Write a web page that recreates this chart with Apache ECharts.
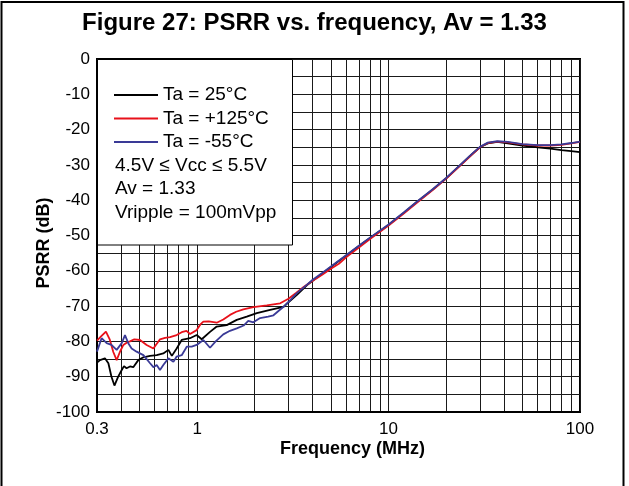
<!DOCTYPE html>
<html>
<head>
<meta charset="utf-8">
<script src="https://cdn.jsdelivr.net/npm/echarts@6/dist/echarts.min.js"></script>
<style>
html,body{margin:0;padding:0;background:#fff;}
#c{width:629px;height:486px;}
</style>
</head>
<body>
<div id="c"></div>
<script>
// ---- data (frequency in MHz, PSRR in dB) ----
const freq25 = [0.300,0.311,0.330,0.344,0.357,0.370,0.377,0.387,0.404,0.415,0.428,0.446,0.464,0.493,0.524,0.568,0.615,0.666,0.708,0.738,0.782,0.831,0.918,0.995,1.057,1.168,1.266,1.428,1.611,1.817,2.05,2.407,2.826,3.0,3.31,3.74,4.0,4.5,5.0,6.0,7.0,8.0,10,12,14,17,20,24,27,30,33,37,42,50,60,70,80,90,100];
const psrr25 = [-86.0,-85.3,-84.8,-86.2,-90.0,-92.5,-92.8,-90.0,-88.1,-87.0,-87.6,-87.1,-87.3,-85.3,-84.5,-84.1,-83.9,-83.4,-82.4,-84.1,-82.0,-79.6,-79.1,-78.2,-79.4,-77.3,-75.8,-75.4,-73.9,-73.0,-72.0,-71.1,-70.2,-68.9,-66.9,-64.1,-62.9,-60.8,-58.9,-55.7,-53.0,-50.7,-47.0,-43.6,-40.6,-37.0,-33.8,-29.8,-27.2,-25.0,-23.9,-23.5,-23.9,-24.5,-25.0,-25.4,-25.8,-26.1,-26.4];

const freq125 = [0.300,0.315,0.334,0.350,0.365,0.380,0.395,0.412,0.430,0.446,0.470,0.503,0.545,0.591,0.640,0.680,0.722,0.782,0.831,0.880,0.918,0.995,1.04,1.078,1.15,1.266,1.37,1.485,1.60,1.744,1.967,2.313,2.716,3.0,3.3,3.6,4.0,4.5,5.0,5.5,6.0,7.0,8.0,10,12,14,17,20,24,27,30,33,37,42,50,60,70,80,90,100];
const psrr125 = [-79.8,-78.6,-77.2,-79.5,-83.0,-85.3,-83.0,-81.0,-80.3,-80.0,-79.4,-79.6,-81.0,-82.0,-79.4,-79.0,-78.8,-78.2,-77.4,-77.0,-77.9,-76.8,-75.2,-74.4,-74.3,-74.7,-73.8,-72.5,-71.6,-70.9,-70.3,-69.8,-69.2,-67.9,-66.2,-64.6,-62.9,-61.1,-59.4,-58.0,-56.2,-53.4,-51.0,-47.2,-43.8,-40.8,-37.1,-33.9,-29.9,-27.3,-25.0,-23.8,-23.4,-23.6,-24.2,-24.5,-24.5,-24.3,-23.9,-23.5];

const freqM55 = [0.300,0.317,0.337,0.357,0.380,0.404,0.420,0.437,0.455,0.483,0.524,0.568,0.591,0.615,0.640,0.666,0.708,0.752,0.782,0.831,0.883,0.937,0.995,1.078,1.168,1.25,1.37,1.485,1.611,1.75,1.85,1.967,2.133,2.35,2.505,2.826,3.058,3.31,3.74,4.0,4.5,5.0,6.0,7.0,8.0,10,12,14,17,20,24,27,30,33,37,42,50,60,70,80,90,100];
const psrrM55 = [-82.9,-79.1,-80.5,-81.0,-82.4,-80.5,-78.2,-80.5,-82.0,-82.9,-83.9,-86.2,-87.3,-86.7,-88.1,-86.7,-84.8,-85.8,-84.3,-83.9,-81.5,-81.5,-81.0,-79.6,-81.8,-80.0,-78.0,-77.0,-76.3,-75.5,-74.2,-74.6,-73.4,-73.0,-72.6,-70.2,-68.4,-66.4,-64.0,-62.6,-60.6,-58.8,-55.6,-52.9,-50.6,-46.9,-43.5,-40.5,-36.9,-33.7,-29.7,-27.1,-24.9,-23.7,-23.3,-23.5,-24.1,-24.4,-24.4,-24.2,-23.8,-23.4];

const gridFreqs = [0.3,0.4,0.5,0.6,0.7,0.8,0.9,1,2,3,4,5,6,7,8,9,10,20,30,40,50,60,70,80,90,100];
const labelFreqs = [0.3,1,10,100];
const seriesNames = ['Ta = 25°C','Ta = +125°C','Ta = -55°C'];
const noteLines = ['4.5V ≤ Vcc ≤ 5.5V','Av = 1.33','Vripple = 100mVpp'];

// ---- chart ----
const lg = Math.log10;
const toPts = (f, d) => f.map((v, i) => [lg(v), d[i]]);
const FONT = 'Liberation Sans, Arial, sans-serif';

const chart = echarts.init(document.getElementById('c'), null, {renderer: 'canvas'});
const gridColor = '#1a1a1a';

const option = {
  animation: false,
  backgroundColor: '#fff',
  title: {
    text: 'Figure 27: PSRR vs. frequency, Av = 1.33',
    left: 'center', top: 11, padding: 0,
    textStyle: {fontFamily: FONT, fontWeight: 'bold', fontSize: 24, color: '#000'}
  },
  grid: {left: 97, right: 49, top: 59, bottom: 74, show: true, borderColor: '#000', borderWidth: 2, backgroundColor: 'transparent'},
  legend: {
    orient: 'vertical', left: 114, top: 83.25, padding: 0,
    itemWidth: 44, itemHeight: 2, itemGap: 0, icon: 'rect',
    selectedMode: false,
    textStyle: {fontFamily: FONT, fontSize: 19, color: '#000', lineHeight: 23.5},
    data: seriesNames
  },
  xAxis: {
    type: 'value',
    min: lg(0.3), max: 2,
    name: 'Frequency (MHz)', nameLocation: 'middle', nameGap: 28, nameMoveOverlap: false,
    nameTextStyle: {fontFamily: FONT, fontWeight: 'bold', fontSize: 18, color: '#000', padding: [0, 0, 0, 28]},
    axisLine: {show: true, onZero: false, lineStyle: {color: '#000', width: 2}},
    axisTick: {show: false, customValues: gridFreqs.map(lg)},
    axisLabel: {
      customValues: labelFreqs.map(lg),
      fontFamily: FONT, fontSize: 17, color: '#000', margin: 9,
      formatter: v => {
        const f = labelFreqs.find(x => Math.abs(lg(x) - v) < 1e-6);
        return f === undefined ? '' : String(f);
      }
    },
    splitLine: {show: true, lineStyle: {color: gridColor, width: 1}}
  },
  yAxis: {
    type: 'value', min: -100, max: 0, interval: 10,
    name: 'PSRR (dB)', nameLocation: 'middle', nameGap: 44, nameMoveOverlap: false,
    nameTextStyle: {fontFamily: FONT, fontWeight: 'bold', fontSize: 18, color: '#000', padding: [0, 15, 0, 0]},
    axisLine: {show: true, onZero: false, lineStyle: {color: '#000', width: 2}},
    axisTick: {show: false},
    minorTick: {show: false, splitNumber: 2},
    axisLabel: {fontFamily: FONT, fontSize: 17, color: '#000', margin: 7},
    splitLine: {show: true, lineStyle: {color: gridColor, width: 1}},
    minorSplitLine: {show: true, lineStyle: {color: gridColor, width: 1}}
  },
  series: [
    {name: seriesNames[0], type: 'line', data: toPts(freq25, psrr25), symbol: 'none', color: '#000000', lineStyle: {width: 1.8}, z: 2},
    {name: seriesNames[1], type: 'line', data: toPts(freq125, psrr125), symbol: 'none', color: '#e8111a', lineStyle: {width: 1.8}, z: 2},
    {name: seriesNames[2], type: 'line', data: toPts(freqM55, psrrM55), symbol: 'none', color: '#3a3a96', lineStyle: {width: 1.8}, z: 2}
  ],
  graphic: [
    {type: 'rect', z: 100, zlevel: 0, silent: true,
     shape: {x: 1.5, y: 2, width: 622, height: 520},
     style: {fill: 'none', stroke: '#000', lineWidth: 2}},
    {type: 'rect', z: 3, silent: true,
     shape: {x: 97.5, y: 59.5, width: 195, height: 185.5},
     style: {fill: '#fff', stroke: '#000', lineWidth: 1}},
    ...noteLines.map((t, i) => ({
      type: 'text', z: 5, silent: true,
      x: 115, y: 165.5 + i * 23.5,
      style: {text: t, font: '19px ' + FONT, fill: '#000', textVerticalAlign: 'middle', verticalAlign: 'middle'}
    }))
  ]
};
chart.setOption(option);
</script>
</body>
</html>
